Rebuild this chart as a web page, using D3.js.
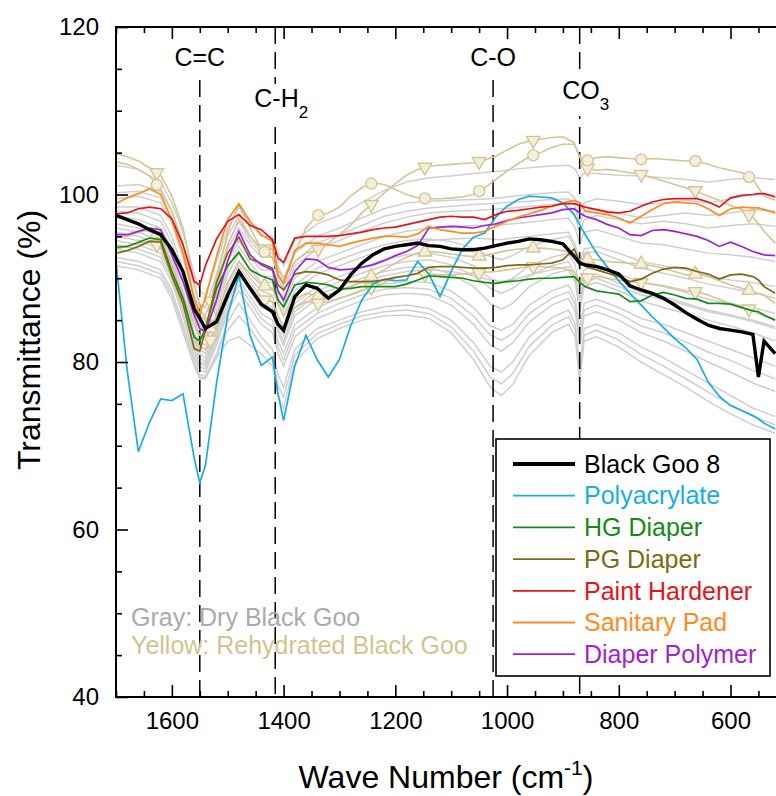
<!DOCTYPE html>
<meta charset="utf-8">
<html>
<head>
<style>
  body { margin: 0; background: #fff; }
  svg { display: block; font-family: "Liberation Sans", Arial, sans-serif; }
  .axis path { display: none; }
  .axis line { stroke: #000; stroke-width: 1.6; }
  .axis text { font-size: 24px; fill: #000; }
</style>
</head>
<body>
<svg width="776" height="796"></svg>
<script src="https://d3js.org/d3.v7.min.js"></script>
<script>
// wave numbers (cm-1) shared by the coloured and rehydrated series
const wave = [1700,1680,1660,1640,1620,1600,1580,1560,1550,1540,1520,1500,1480,1460,1440,1420,1410,1400,1380,1360,
  1340,1320,1300,1280,1260,1240,1220,1200,1180,1160,1140,1120,1100,1080,1060,1040,1020,1000,980,960,
  940,920,900,880,870,860,840,820,800,780,760,740,720,700,680,660,640,620,600,580,560,550,540,520];

const blackGoo = [97.5,97.0,96.5,95.8,95.2,93.4,90.8,86.3,85.2,84.0, 84.8,88.0,90.8,88.8,86.9,86.0,84.5,83.8,87.8,89.2,
  88.8,87.6,88.6,90.4,91.8,92.8,93.5,93.8,94.0,94.2, 93.9,93.8,93.5,93.4,93.4,93.6,93.9,94.2,94.4,94.7,
  94.6,94.4,94.1,92.6,91.8,91.6,91.4,91.0,90.5,89.1, 88.6,88.2,87.6,86.8,85.9,85.1,84.4,84.0,83.8,83.6, 83.3,78.2,82.5,81.0];
const polyacrylate = [92,79,69.3,72.8,75.6,75.4,76.2,68.5,65.6,67.6, 77.5,85.6,90.4,83.2,79.6,80.6,76.2,73.0,79.5,83.2,
  80.3,78.2,80.3,84.3,87.4,89.3,89.9,89.7,89.8,92.0, 90.5,87.8,90.8,93.5,94.9,95.4,97.3,98.6,99.4,99.8,
  99.7,99.6,99.0,97.6,96.4,95.2,93.0,91.3,89.7,88.2, 86.8,85.4,84.1,82.8,81.7,80.3,77.6,75.9,74.8,74.2, 73.6,73.2,72.7,72.0];
const hgDiaper = [93.7,93.8,94.3,94.8,94.6,90.8,87.6,83.0,82.5,84.0, 88.8,91.5,93.1,91.0,90.3,89.8,87.4,86.6,89.2,89.5,
  89.4,89.2,88.7,88.8,89.0,89.0,89.0,89.0,89.3,89.8, 90.3,90.2,90.1,90.0,89.7,89.5,89.4,89.6,89.7,89.9,
  90.0,90.0,90.1,90.2,89.5,89.0,88.5,88.3,88.1,87.2, 87.3,88.0,88.3,88.0,87.6,87.5,87.0,87.0,86.9,86.5, 86.1,86.0,85.6,85.0];
const pgDiaper = [93.0,93.3,93.8,94.4,94.3,90.3,87.0,81.6,81.3,83.8, 89.5,93.0,94.9,92.3,91.8,91.2,89.2,88.6,90.5,90.8,
  90.7,90.4,89.8,89.6,89.6,89.6,89.8,90.1,90.3,90.6, 91.3,91.4,91.4,91.3,91.2,91.2,91.3,91.5,91.6,91.6,
  91.7,91.8,92.2,93.5,92.0,91.4,91.0,90.6,90.2,89.6, 89.9,90.6,91.1,91.3,91.2,90.8,90.5,89.9,90.4,90.5, 90.2,89.8,89.0,88.2];
const paintHardener = [97.7,97.8,98.3,98.5,98.3,97.1,94.0,89.6,89.2,91.5, 94.7,96.8,97.6,96.3,95.8,94.6,92.4,91.9,94.8,95.0,
  95.0,95.0,95.1,95.3,95.5,95.8,96.0,96.1,96.4,96.7, 97.0,97.3,97.4,97.3,97.3,97.0,97.6,98.0,98.1,98.3,
  98.5,98.6,98.9,98.9,98.7,98.5,98.2,97.9,97.8,98.0, 98.6,99.1,99.4,99.5,99.5,99.5,99.1,98.5,99.6,99.9, 100.0,100.1,100.1,99.7];
const sanitaryPad = [98.9,99.6,100.1,100.7,100.0,97.0,93.0,87.5,85.8,87.6, 92.6,97.0,98.9,96.8,95.2,94.4,90.3,89.4,93.3,94.2,
  94.2,94.0,93.8,94.2,94.5,94.8,95.0,95.0,94.9,95.3, 96.2,95.8,95.6,95.4,95.4,95.6,96.2,96.8,97.3,97.7,
  98.1,98.6,99.0,99.3,99.0,98.0,97.8,97.6,97.2,96.6, 97.4,98.2,98.9,99.1,99.0,98.9,98.3,97.5,98.3,98.5, 98.4,98.4,98.2,97.8];
const diaperPolymer = [95.2,95.2,95.6,96.0,95.8,92.8,89.6,85.6,84.0,83.6, 87.4,92.1,95.6,92.8,91.6,91.0,88.5,87.4,90.8,92.3,
  92.2,91.3,91.0,91.1,91.3,91.6,92.1,92.7,93.2,93.9, 96.0,96.1,96.2,96.1,96.0,96.3,96.5,96.9,97.2,97.4,
  97.6,97.8,98.2,98.3,97.8,97.4,97.0,96.4,96.0,95.2, 95.1,95.7,95.8,95.6,95.3,95.0,94.5,93.8,94.3,93.8, 93.2,93.0,92.8,92.7];

// rehydrated black goo (yellow, with markers)
const rehydA = [104.9,104.5,104.0,103.2,102.3,99.8,96.0,89.5,86.5,85.0, 90.0,95.5,98.8,96.0,93.5,93.5,91.0,90.0,92.0,93.0,
  93.4,94.2,95.2,96.3,97.8,99.0,100.2,101.3,102.3,103.0, 103.4,103.5,103.6,103.7,103.8,104.1,104.6,105.3,106.0,106.4,
  106.6,106.8,106.9,106.2,104.5,103.2,102.9,103.0,102.8,102.6, 102.4,102.0,101.6,101.2,100.8,100.4,99.8,99.3,98.7,98.2, 97.3,96.5,95.6,94.2];
const rehydB = [103.9,103.6,103.0,102.2,100.6,98.0,94.0,87.5,84.5,83.5, 88.0,94.0,97.0,95.0,93.4,92.5,90.5,89.5,93.0,96.0,
  97.5,97.8,98.5,99.8,100.8,101.4,101.2,100.6,100.0,99.6, 99.5,99.5,99.6,99.7,100.0,100.8,101.8,102.8,103.7,104.5,
  105.0,105.6,106.0,106.0,104.5,104.0,104.4,104.5,104.4,104.3, 104.2,104.3,104.2,104.1,104.0,104.0,103.6,103.2,102.9,102.6, 101.8,100.8,99.8,99.3];
const rehydC = [95.0,95.0,95.5,95.8,95.0,91.5,88.0,84.5,83.2,82.8, 85.5,89.5,92.0,90.5,89.2,88.8,87.0,85.5,87.5,88.2,
  87.9,88.0,88.5,89.0,89.6,90.3,91.0,91.8,92.5,93.0, 93.2,93.1,92.9,92.7,92.6,92.7,93.0,93.3,93.5,93.6,
  93.6,93.5,93.3,93.0,92.2,92.3,92.2,92.0,91.9,91.8, 91.7,91.5,91.2,90.8,90.4,90.5,90.2,89.7,89.2,88.8, 88.4,88.2,88.0,87.0];
const rehydD = [93.5,93.8,94.2,94.4,93.8,90.0,86.5,83.0,81.8,81.5, 84.0,88.0,90.5,89.0,87.5,87.2,85.5,84.3,86.5,87.2,
  87.0,87.2,87.6,88.0,88.5,89.0,89.5,90.0,90.3,90.5, 90.5,90.4,90.4,90.5,90.6,90.7,90.8,91.0,91.2,91.4,
  91.4,91.3,91.2,90.8,89.5,90.0,90.2,90.0,89.8,89.6, 89.5,89.3,89.1,88.8,88.5,88.4,88.0,87.5,87.0,86.6, 86.2,85.8,85.5,85.0];
const markerWaves = [1627,1531,1434,1338,1243,1147,1050,953,856,760,663,567];

// dry black goo (gray)
const grayWave = [1700,1660,1620,1600,1580,1560,1550,1540,1520,1500,1480,1460,1440,1420,1410,1400,1380,1340,1300,1260,
  1220,1180,1140,1100,1060,1030,1010,990,960,920,890,878,870,862,840,800,760,720,680,640,600,560,520];
const dry1 = [103.5,103,101.5,99,95.5,90.5,88.5,88,92,96, 98.5,96.5,95,95,93,91.5,94.5,96.5,97.5,99, 100.5,101.5,102,102.2,102.5,102.7,102.8,103,103.2,103.4, 103.5,103,102,102.5,102.5,102.3,102.2,102,101.8,101.5, 101.8,102,101.8];
const dry2 = [101,101.2,100.3,98,94,89,87,86.5,90.5,95, 97.5,95,93.5,93.5,91.5,90,93,95,96,97.2, 98.3,99,99.2,99.3,99.4,99.5,99.6,99.8,100,100.2, 100.3,99.5,98,99,99.5,99.2,98.8,99,99.3,99, 99.5,100,100];
const dry3 = [99.5,99.8,99,96.5,92.5,87.5,85.5,85,89,93.5, 96,94,92.5,92.5,90,88.5,91.5,93.5,94.5,95.6, 96.6,97.3,97.8,98,98.1,98.2,98.3,98.4,98.6,98.8, 98.9,97.5,95.5,97,97.5,97,96.5,96.8,96.5,96, 96.3,96.5,96.2];
const dry4 = [98.5,98.5,97.5,95,91,86,84,83.5,87.5,92, 94.5,92.5,91,91,88.5,87,90,92,93,94, 95,95.6,96,96.2,96.3,96.3,96.4,96.5,96.7,97, 97.2,96,94,95.5,95.8,95,94.2,94,93.5,93, 92.8,92.5,92];
const dry5 = [97.5,97,96,93.5,89.5,84.5,82.5,82,86,90.5, 93,91,89.5,89.5,87,85.5,88.5,90.5,91.5,92.5, 93.4,94,94.5,94.7,94.8,94.7,94.6,94.8,95,95.3, 95.5,94,92,93.5,93.8,93,92,91.5,91,90.2, 89.8,89.5,89];
const dry6 = [96.5,96,95,92.5,88.5,83.5,81.5,81,85,89.5, 92,90,88.5,88,85.5,84,87,89,90.2,91.3, 92.2,92.8,93,92.5,91.5,90,89.5,90,91.5,92.5, 93,91.5,89,91,91.5,90.5,89.5,89,88.3,87.5, 87,86.5,85.8];
const dry7 = [95.5,95,94,91.5,87.5,82.5,80.5,80,84,88.5, 91,89,87,86.5,84,82.5,86,88,89,90, 90.8,91.3,91.3,90.5,89,87,86.3,87,89,90.5, 91,89.5,86,89,89.5,88.5,87.3,86.5,85.8,85, 84.3,83.5,82.5];
const dry8 = [94.5,94,93,90.5,86.5,81.5,79.8,79.5,83,87.3, 89.8,87.8,85.8,85,82.5,81,84.5,86.5,87.6,88.6, 89.3,89.6,89.5,88.5,86.5,84.3,83.8,84.5,86.8,88.5, 89.2,87.5,84,87,87.5,86.5,85.2,84.5,83.5,82.5, 81.5,80.5,79.5];
const dry9 = [93.5,93,92,89.5,85.5,80.5,79,78.8,82,86, 88.5,86.5,84.5,83.5,81,79.5,83,85.2,86.3,87.3, 88,88.2,88,86.8,84.5,82,81.3,82.3,84.8,86.8, 87.6,86,82,85.5,86,85,83.5,82.5,81.3,80, 78.8,77.5,76.5];
const dry10 = [92.5,92,91,88.5,84.5,80,78.5,78.3,81,84.8, 87,85,83,81.5,78.5,77,81.5,84,85,86, 86.6,86.8,86.4,85,82.3,79.5,78.8,80,83,85.3, 86.2,84.5,79.5,84,84.5,83.5,81.8,80.5,79,77.5, 76,74.5,73.5];
const dry11 = [91.5,91,90,87.5,83.5,79.5,78,78,80.5,82.5, 83,82,81,79.5,76,74.5,80,82.8,84,85, 85.5,85.6,85.2,83.5,80.3,77,76,77.3,80.8,83.5, 84.5,83,77.5,82.5,83,81.8,80,78.5,77,75.3, 73.8,72.5,71.5];
const dry12 = [100.2,100.4,99.6,97,93,88,86,85.5,89.5,94, 96.8,94.5,93,93,90.5,89,92,94.2,95.2,96.3, 97.4,98,98.4,98.6,98.8,98.9,99,99.1,99.2,99.4, 99.5,98.5,96.5,98,98.3,97.8,97.2,97.5,97.8,97.5, 97.8,98.2,98];
const dry13 = [98,97.8,96.8,94.2,90.2,85.2,83.2,82.8,86.8,91.2, 93.8,91.8,90.2,90.2,87.8,86.2,89.2,91.2,92.2,93.2, 94,94.5,94.7,94.4,93.6,92.6,92.2,92.7,93.8,94.6, 95,93.5,91,93,93.2,92.2,91.2,90.6,90,89.3, 88.8,88.3,87.6];
const dry14 = [96,95.5,94.5,92,88,83,81,80.5,84.5,89, 91.5,89.5,87.8,87.2,84.8,83.2,86.5,88.5,89.6,90.6, 91.5,92,92.2,91.6,90.3,88.8,88.2,88.8,90.3,91.5, 92,90.5,87.5,90,90.5,89.4,88.3,87.8,87,86.2, 85.6,85,84.2];
const dry15 = [94,93.5,92.5,90,86,81,79.4,79.2,82.5,86.6, 89.2,87.2,85.2,84.2,81.8,80.2,83.8,85.8,87,88, 88.7,88.9,88.7,87.6,85.5,83.2,82.6,83.4,85.8,87.6, 88.4,86.8,83,86.2,86.8,85.8,84.3,83.5,82.4,81.2, 80.2,79,78];
const dry16 = [92,91.5,90.5,88,84,79.8,78.2,78.1,80.8,83.8, 85.5,84,82,80.5,77.2,75.8,80.8,83.4,84.5,85.5, 86,86.2,85.8,84.2,81.3,78.2,77.4,78.6,81.9,84.4, 85.4,83.8,78.5,83.2,83.8,82.6,80.9,79.5,78,76.4, 74.9,73.5,72.5];
const dry17 = [95,94.5,93.5,91,87,82,80,79.8,83.5,88, 90.5,88.5,86.5,86,83.5,82,85.5,87.5,88.6,89.5, 90.3,90.8,91,90.8,90.3,89.8,89.6,89.8,90.4,91, 91.4,90,86.5,89.5,90,89,88,87.5,86.8,86, 85.5,84.8,84];
const drySeries = [dry1, dry2, dry3, dry4, dry5, dry6, dry7, dry8, dry9, dry10, dry11, dry12, dry13, dry14, dry15, dry16, dry17];

const legendNames = ["Black Goo 8", "Polyacrylate", "HG Diaper", "PG Diaper", "Paint Hardener", "Sanitary Pad", "Diaper Polymer"];
const legendColors = ["#000000", "#18ade6", "#168a16", "#7e6a14", "#e3141a", "#ff8a1e", "#a021dc"];
const bandWaves = [1550, 1415, 1025, 870];
const bandNames = ["C=C", "C-H", "C-O", "CO"];
const bandSubs = ["", "2", "", "3"];

const yTicks = [40, 60, 80, 100, 120];
const xTicks = [1600, 1400, 1200, 1000, 800, 600];

// the frame's right edge sits just past the picture's edge
const pLeft = 116, pRight = 778, pTop = 27, pBottom = 697;
const x = d3.scaleLinear().domain([1700, 515]).range([pLeft, pRight]);
const y = d3.scaleLinear().domain([40, 120]).range([pBottom, pTop]);

const svg = d3.select("svg");
svg.append("defs").append("clipPath").attr("id", "clip")
  .append("rect").attr("x", pLeft).attr("y", pTop).attr("width", pRight - pLeft).attr("height", pBottom - pTop);

const plot = svg.append("g").attr("clip-path", "url(#clip)");

const lineOn = xs => d3.line().x((d, i) => x(xs[i])).y(d => y(d));

// gray lines
drySeries.forEach(s => {
  plot.append("path").datum(s)
    .attr("d", lineOn(grayWave))
    .attr("fill", "none").attr("stroke", "#cfcfcf").attr("stroke-width", 1.5);
});

// band guides
bandWaves.forEach((w, i) => {
  plot.append("line")
    .attr("x1", x(w)).attr("x2", x(w))
    .attr("y1", i % 2 === 0 ? 80 : pTop).attr("y2", pBottom)
    .attr("stroke", "#000").attr("stroke-width", 1.5)
    .attr("stroke-dasharray", "17,8");
});

// rehydrated lines with markers
const tan = "#d6c591";
const rehyd = [
  { values: rehydA, marker: "down" },
  { values: rehydB, marker: "circle" },
  { values: rehydC, marker: "up" },
  { values: rehydD, marker: "down" }
];
rehyd.forEach(s => {
  plot.append("path").datum(s.values)
    .attr("d", lineOn(wave))
    .attr("fill", "none").attr("stroke", tan).attr("stroke-width", 1.6);
});
rehyd.forEach(s => {
  const f = d3.scaleLinear().domain(wave).range(s.values);
  const sym = d3.symbol()
    .type(s.marker === "circle" ? d3.symbolCircle : d3.symbolTriangle)
    .size(s.marker === "circle" ? 95 : 80);
  plot.selectAll(null).data(markerWaves).enter().append("path")
    .attr("d", sym)
    .attr("transform", w => `translate(${x(w)},${y(f(w))})` + (s.marker === "down" ? " rotate(180)" : ""))
    .attr("fill", "#f4efdb").attr("stroke", tan).attr("stroke-width", 1.4);
});

// reference spectra
const colored = [polyacrylate, hgDiaper, pgDiaper, diaperPolymer, sanitaryPad, paintHardener];
const coloredIdx = [1, 2, 3, 6, 5, 4];
colored.forEach((s, k) => {
  plot.append("path").datum(s)
    .attr("d", lineOn(wave))
    .attr("fill", "none").attr("stroke", legendColors[coloredIdx[k]]).attr("stroke-width", 1.7);
});
plot.append("path").datum(blackGoo)
  .attr("d", lineOn(wave))
  .attr("fill", "none").attr("stroke", "#000").attr("stroke-width", 3.4);

// band labels
bandWaves.forEach((w, i) => {
  const ty = i % 2 === 0 ? 66 : (i === 1 ? 107 : 99);
  const dx = bandSubs[i] ? 6 : 0;
  const t = svg.append("text")
    .attr("x", x(w) + dx).attr("y", ty)
    .attr("text-anchor", "middle")
    .style("font-size", "25px");
  t.append("tspan").text(bandNames[i]);
  if (bandSubs[i]) t.append("tspan").attr("dy", 11).style("font-size", "17px").text(bandSubs[i]);
  const bb = t.node().getBBox();
  svg.insert("rect", () => t.node())
    .attr("x", bb.x - 2).attr("y", bb.y).attr("width", bb.width + 4).attr("height", bb.height + 2)
    .attr("fill", "#fff");
});

// axes
const xMinor = d3.range(1700, 515, -50).filter(v => !xTicks.includes(v));
const yMinor = d3.range(40, 121, 5).filter(v => !yTicks.includes(v));

svg.append("g").attr("class", "axis").attr("transform", `translate(0,${pBottom})`)
  .call(d3.axisBottom(x).tickValues(xTicks).tickSize(-12).tickPadding(15).tickFormat(d3.format("d")));
svg.append("g").attr("class", "axis").attr("transform", `translate(0,${pBottom})`)
  .call(d3.axisBottom(x).tickValues(xMinor).tickSize(-6).tickFormat(""));
svg.append("g").attr("class", "axis").attr("transform", `translate(0,${pTop})`)
  .call(d3.axisTop(x).tickValues(xTicks).tickSize(-12).tickFormat(""));
svg.append("g").attr("class", "axis").attr("transform", `translate(0,${pTop})`)
  .call(d3.axisTop(x).tickValues(xMinor).tickSize(-6).tickFormat(""));
svg.append("g").attr("class", "axis").attr("transform", `translate(${pLeft},0)`)
  .call(d3.axisLeft(y).tickValues(yTicks).tickSize(-12).tickPadding(17));
svg.append("g").attr("class", "axis").attr("transform", `translate(${pLeft},0)`)
  .call(d3.axisLeft(y).tickValues(yMinor).tickSize(-6).tickFormat(""));

svg.append("rect")
  .attr("x", pLeft).attr("y", pTop).attr("width", pRight - pLeft).attr("height", pBottom - pTop)
  .attr("fill", "none").attr("stroke", "#000").attr("stroke-width", 2);

// notes
svg.append("text").attr("x", 131).attr("y", 626).style("font-size", "25px").attr("fill", "#ababab")
  .text("Gray: Dry Black Goo");
svg.append("text").attr("x", 131).attr("y", 654).style("font-size", "25px").attr("fill", "#d4c390")
  .text("Yellow: Rehydrated Black Goo");

// legend
const lg = svg.append("g");
lg.append("rect").attr("x", 496).attr("y", 439).attr("width", 274).attr("height", 237)
  .attr("fill", "#fff").attr("stroke", "#000").attr("stroke-width", 1.6);
legendNames.forEach((name, i) => {
  const ly = 464 + i * 31.7;
  lg.append("line").attr("x1", 513).attr("x2", 575).attr("y1", ly).attr("y2", ly)
    .attr("stroke", legendColors[i]).attr("stroke-width", i === 0 ? 4 : 1.8);
  lg.append("text").attr("x", 584).attr("y", ly).attr("dy", "0.35em")
    .style("font-size", "25px").attr("fill", legendColors[i]).text(name);
});

// axis titles
const xt = svg.append("text").attr("x", 446).attr("y", 788).attr("text-anchor", "middle").style("font-size", "32px");
xt.append("tspan").text("Wave Number (cm");
xt.append("tspan").attr("dy", -13).style("font-size", "21px").text("-1");
xt.append("tspan").attr("dy", 13).text(")");

svg.append("text").attr("transform", "translate(40,340) rotate(-90)")
  .attr("text-anchor", "middle").style("font-size", "32px").text("Transmittance (%)");
</script>
</body>
</html>
